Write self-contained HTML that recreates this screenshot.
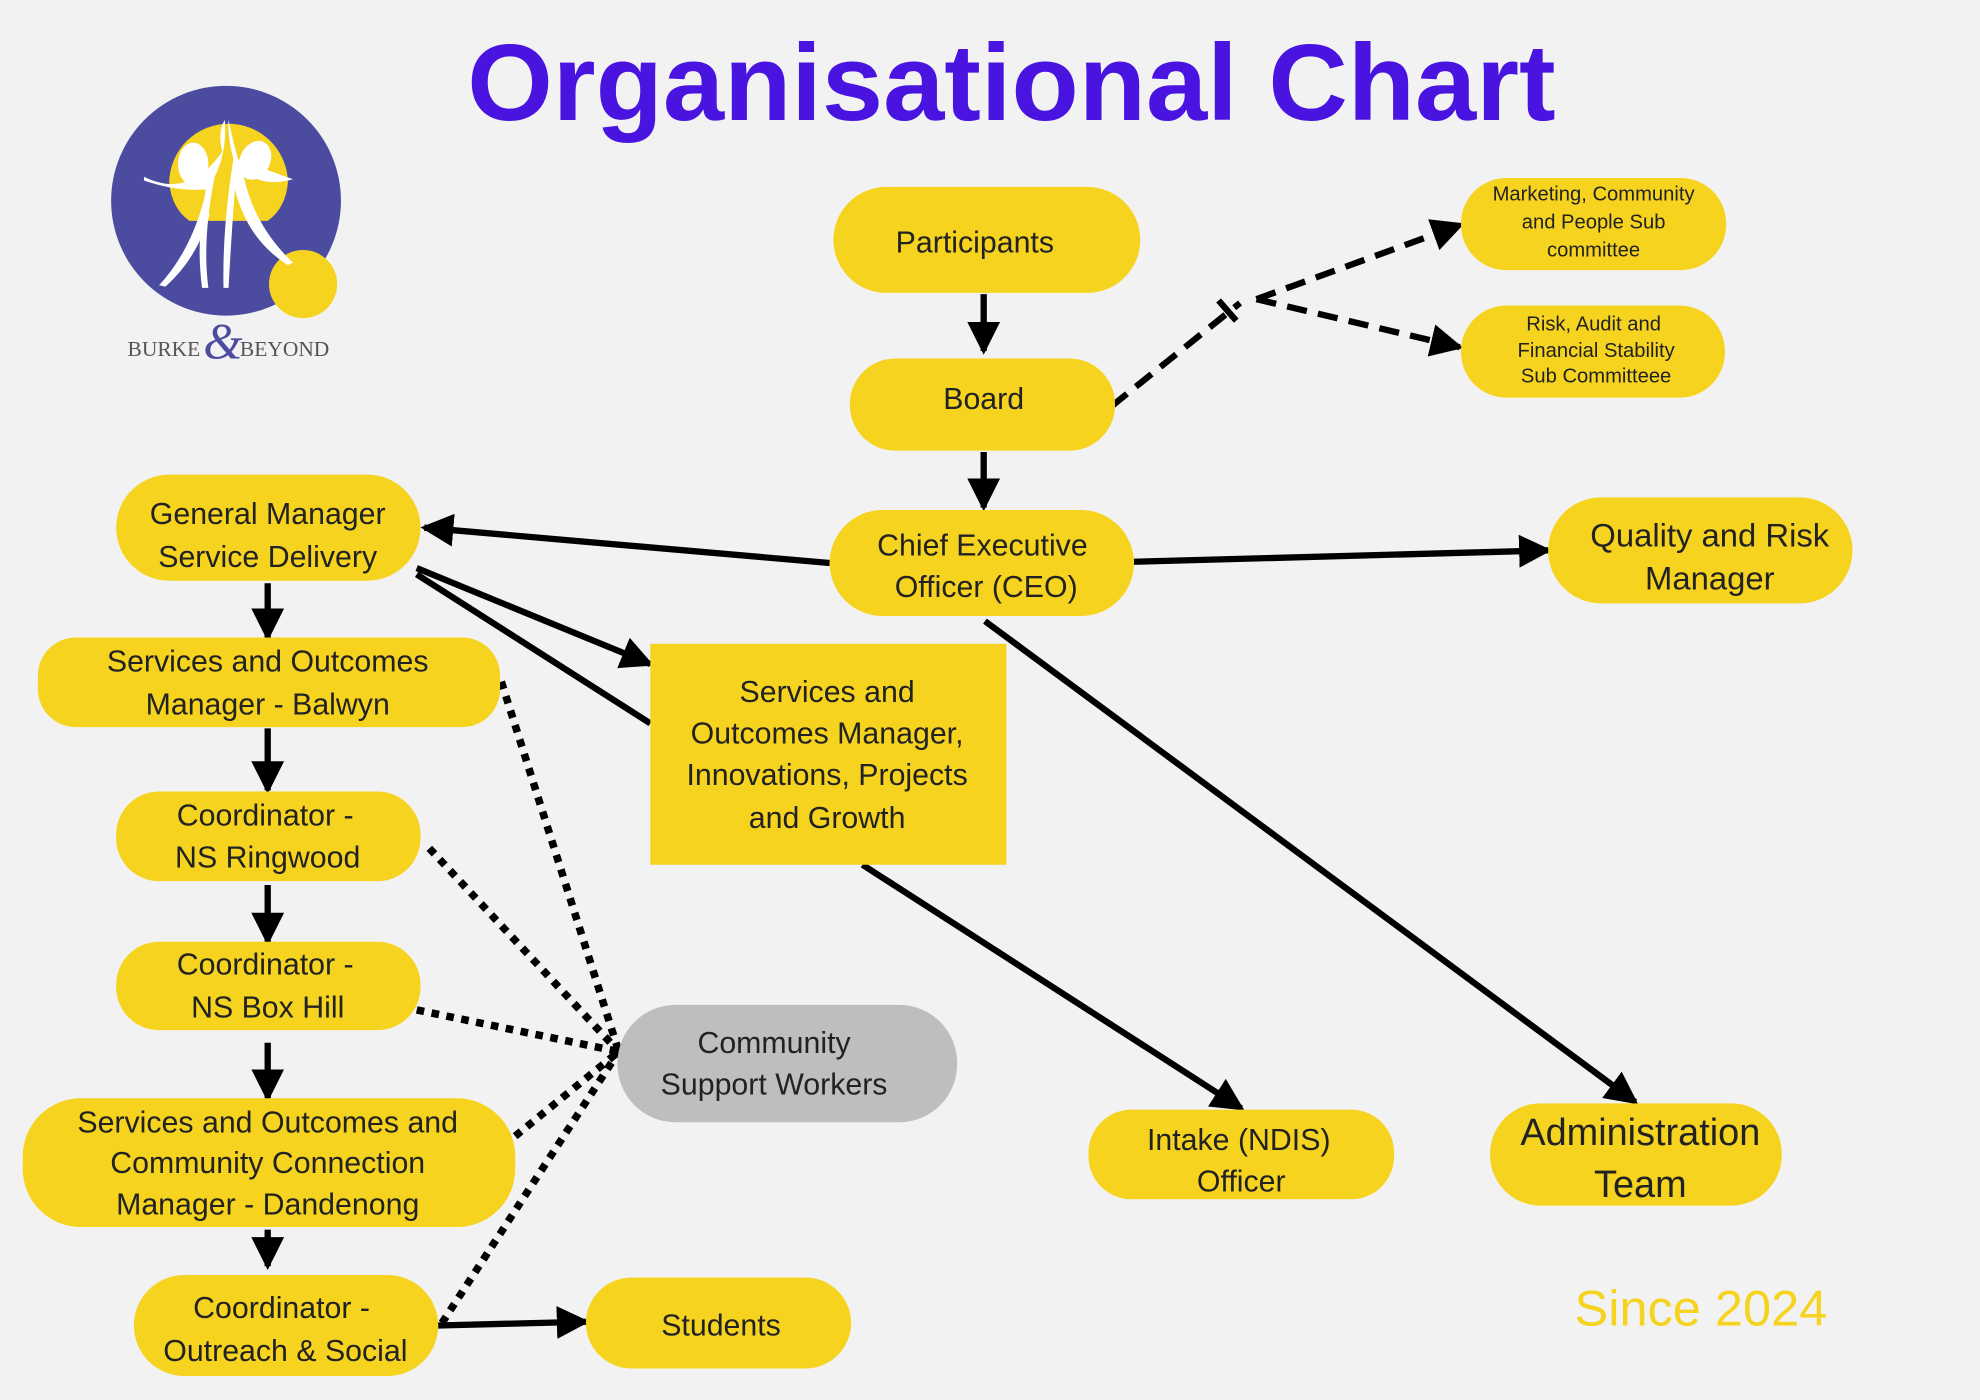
<!DOCTYPE html>
<html><head><meta charset="utf-8"><style>
html,body{margin:0;padding:0;background:#f2f2f2}
svg{display:block}
.n{font-family:"Liberation Sans",sans-serif;font-size:24px;fill:#222;text-anchor:middle}
.s{font-family:"Liberation Serif",serif;font-size:17px;fill:#555}
</style></head><body>
<svg width="1980" height="1400" viewBox="0 0 1568 1109" preserveAspectRatio="none" xmlns="http://www.w3.org/2000/svg">
<defs>
<marker id="a" markerUnits="userSpaceOnUse" markerWidth="28" markerHeight="28" refX="23" refY="14" orient="auto"><path d="M0,1 L26,14 L0,27 Z" fill="#000"/></marker>
</defs>
<rect width="1568" height="1109" fill="#f2f2f2"/>
<text x="801" y="95" style="font-family:'Liberation Sans',sans-serif;font-size:86px;font-weight:bold" fill="#4a14e0" text-anchor="middle" textLength="862" lengthAdjust="spacingAndGlyphs">Organisational Chart</text>

<!-- logo -->
<circle cx="179" cy="159" r="91" fill="#4b4b9f"/>
<path d="M134,145 A47,47 0 0 1 228,145 Q226,165 212,175 L150,175 Q136,165 134,145Z" fill="#f5d31f"/>
<circle cx="240" cy="225" r="27" fill="#f5d31f"/>
<ellipse cx="153" cy="130" rx="12" ry="17" fill="#fff"/>
<ellipse cx="202" cy="127" rx="12" ry="16" fill="#fff" transform="rotate(25 202 127)"/>
<path d="M114,140 Q150,158 176,120 Q172,105 178,95 Q180,120 170,140 Q160,190 165,228 L160,228 Q155,190 163,150 Q140,152 114,143Z" fill="#fff"/>
<path d="M232,142 Q205,150 186,130 Q180,110 181,95 Q186,120 193,140 Q202,180 232,208 L228,210 Q196,190 186,150 Q183,190 181,228 L177,228 Q176,180 185,125Z" fill="#fff"/>
<path d="M161,160 Q150,200 126,226 L131,227 Q156,205 166,170Z" fill="#fff"/>
<text x="101" y="282" class="s">BURKE</text>
<text x="161" y="284" style="font-family:'Liberation Serif',serif;font-size:40px;font-style:italic" fill="#4b4b9f">&amp;</text>
<text x="190" y="282" class="s">BEYOND</text>

<!-- connectors -->
<g stroke="#000" stroke-width="5" fill="none">
<line x1="779" y1="233" x2="779" y2="278" marker-end="url(#a)"/>
<line x1="779" y1="358" x2="779" y2="402" marker-end="url(#a)"/>
<line x1="657" y1="446" x2="336" y2="418" marker-end="url(#a)"/>
<line x1="898" y1="445" x2="1226" y2="436" marker-end="url(#a)"/>
<line x1="780" y1="492" x2="1295" y2="873" marker-end="url(#a)"/>
<line x1="330" y1="450" x2="515" y2="526" marker-end="url(#a)"/>
<line x1="330" y1="455" x2="515" y2="573"/>
<line x1="683" y1="685" x2="983" y2="878" marker-end="url(#a)"/>
<line x1="212" y1="462" x2="212" y2="505" marker-end="url(#a)"/>
<line x1="212" y1="577" x2="212" y2="626" marker-end="url(#a)"/>
<line x1="212" y1="701" x2="212" y2="746" marker-end="url(#a)"/>
<line x1="212" y1="826" x2="212" y2="870" marker-end="url(#a)"/>
<line x1="212" y1="974" x2="212" y2="1003" marker-end="url(#a)"/>
<line x1="347" y1="1050" x2="464" y2="1047" marker-end="url(#a)"/>
<g stroke-dasharray="16,9">
<line x1="880" y1="322" x2="982" y2="240"/>
<line x1="995" y1="237" x2="1157" y2="178" marker-end="url(#a)"/>
<line x1="995" y1="237" x2="1156" y2="275" marker-end="url(#a)"/>
</g>
<line x1="965" y1="238" x2="979" y2="254"/>
<g stroke-dasharray="6,6" stroke-width="6">
<line x1="397" y1="540" x2="490" y2="833"/>
<line x1="340" y1="672" x2="490" y2="833"/>
<line x1="330" y1="800" x2="490" y2="833"/>
<line x1="408" y1="900" x2="490" y2="833"/>
<line x1="350" y1="1048" x2="490" y2="833"/>
</g>
</g>

<!-- nodes -->
<g fill="#f5d31f">
<rect x="660" y="148" width="243" height="84" rx="42"/>
<rect x="673" y="284" width="210" height="73" rx="36"/>
<rect x="657" y="404" width="241" height="84" rx="42"/>
<rect x="1157" y="141" width="210" height="73" rx="36"/>
<rect x="1157" y="242" width="209" height="73" rx="36"/>
<rect x="1226" y="394" width="241" height="84" rx="42"/>
<rect x="92" y="376" width="241" height="84" rx="42"/>
<rect x="30" y="505" width="366" height="71" rx="30"/>
<rect x="515" y="510" width="282" height="175"/>
<rect x="92" y="627" width="241" height="71" rx="34"/>
<rect x="92" y="746" width="241" height="70" rx="34"/>
<rect x="18" y="870" width="390" height="102" rx="46"/>
<rect x="106" y="1010" width="241" height="80" rx="40"/>
<rect x="464" y="1012" width="210" height="72" rx="36"/>
<rect x="862" y="879" width="242" height="71" rx="34"/>
<rect x="1180" y="874" width="231" height="81" rx="40"/>
</g>
<rect x="489" y="796" width="269" height="93" rx="46" fill="#bdbebf"/>

<text class="n" x="772" y="200">Participants</text>
<text class="n" x="779" y="324">Board</text>
<text class="n"><tspan x="778" y="440">Chief Executive</tspan><tspan x="781" y="473">Officer (CEO)</tspan></text>
<text class="n" style="font-size:16px"><tspan x="1262" y="159">Marketing, Community</tspan><tspan x="1262" y="181">and People Sub</tspan><tspan x="1262" y="203">committee</tspan></text>
<text class="n" style="font-size:16px"><tspan x="1262" y="262">Risk, Audit and</tspan><tspan x="1264" y="283">Financial Stability</tspan><tspan x="1264" y="303">Sub Committeee</tspan></text>
<text class="n" style="font-size:26px"><tspan x="1354" y="433">Quality and Risk</tspan><tspan x="1354" y="467">Manager</tspan></text>
<text class="n"><tspan x="212" y="415">General Manager</tspan><tspan x="212" y="449">Service Delivery</tspan></text>
<text class="n"><tspan x="212" y="532">Services and Outcomes</tspan><tspan x="212" y="566">Manager -  Balwyn</tspan></text>
<text class="n"><tspan x="655" y="556">Services and</tspan><tspan x="655" y="589">Outcomes Manager,</tspan><tspan x="655" y="622">Innovations, Projects</tspan><tspan x="655" y="656">and Growth</tspan></text>
<text class="n"><tspan x="210" y="654">Coordinator -</tspan><tspan x="212" y="687">NS Ringwood</tspan></text>
<text class="n"><tspan x="210" y="772">Coordinator -</tspan><tspan x="212" y="806">NS Box Hill</tspan></text>
<text class="n"><tspan x="212" y="897">Services and Outcomes and</tspan><tspan x="212" y="929">Community Connection</tspan><tspan x="212" y="962">Manager -  Dandenong</tspan></text>
<text class="n"><tspan x="223" y="1044">Coordinator -</tspan><tspan x="226" y="1078">Outreach &amp; Social</tspan></text>
<text class="n" x="571" y="1058">Students</text>
<text class="n"><tspan x="613" y="834">Community</tspan><tspan x="613" y="867">Support Workers</tspan></text>
<text class="n"><tspan x="981" y="911">Intake  (NDIS)</tspan><tspan x="983" y="944">Officer</tspan></text>
<text class="n" style="font-size:30px"><tspan x="1299" y="907">Administration</tspan><tspan x="1299" y="948">Team</tspan></text>
<text x="1347" y="1050" style="font-family:'Liberation Sans',sans-serif;font-size:40px" fill="#f5d31f" text-anchor="middle">Since 2024</text>
</svg>
</body></html>
